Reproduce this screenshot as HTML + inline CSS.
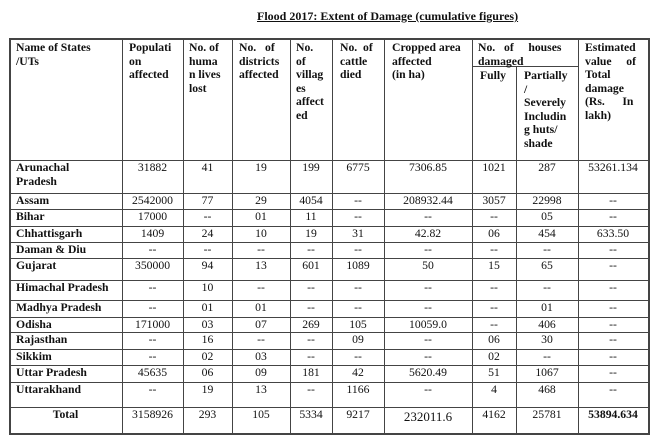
<!DOCTYPE html>
<html><head><style>
body{margin:0;width:663px;height:439px;background:#fff;position:relative;font-family:"Liberation Serif",serif;color:#111;overflow:hidden}
.h{position:absolute;height:1px;background:#444}
.v{position:absolute;width:1px;background:#444}
.t{position:absolute;font-size:11.7px;line-height:13.5px;white-space:nowrap}
.b{font-weight:bold}
.c{text-align:center}
</style></head><body>
<div class="t b" style="left:257px;top:10px;text-decoration:underline;font-size:12px">Flood 2017: Extent of Damage (cumulative figures)</div>
<div id="g"></div>
<script>
const xs=[9,122,183,232,290,332,384,472,516,578,648];
const ys=[38,160,193,209,226,242,258,280,300,317,332,349,365,382,407,433];
let h='';
ys.forEach(y=>h+=`<div class="h" style="left:9px;width:640px;top:${y}px;${y==38||y==433?'height:2px;':''}"></div>`);
h+=`<div class="h" style="left:472px;width:106px;top:66px"></div>`;
xs.forEach((x,i)=>{let top=38;if(x==516)top=66;h+=`<div class="v" style="left:${x}px;top:${top}px;height:${433-top+2}px;${i==0||i==10?'width:2px;':''}"></div>`});
const hd=[[16,41,"Name of States<br>/UTs"],[129,41,"Populati<br>on<br>affected"],[189,41,"No. of<br>huma<br>n lives<br>lost"],[239,41,"No.&nbsp;&nbsp; of<br>districts<br>affected"],[296,41,"No.<br>of<br>villag<br>es<br>affect<br>ed"],[340,41,"No.&nbsp; of<br>cattle<br>died"],[392,41,"Cropped area<br>affected<br>(in ha)"],[478,41,"No.&nbsp;&nbsp; of&nbsp;&nbsp;&nbsp;&nbsp; houses<br>damaged"],[480,69,"Fully"],[524,69,"Partially<br>/<br>Severely<br>Includin<br>g huts/<br>shade"],[585,41,"Estimated<br>value&nbsp;&nbsp;&nbsp;&nbsp; of<br>Total<br>damage<br>(Rs.&nbsp;&nbsp;&nbsp;&nbsp;&nbsp; In<br>lakh)"]];
hd.forEach(a=>h+=`<div class="t b" style="left:${a[0]}px;top:${a[1]}px">${a[2]}</div>`);
const rows=[
["Arunachal<br>Pradesh","31882","41","19","199","6775","7306.85","1021","287","53261.134"],
["Assam","2542000","77","29","4054","--","208932.44","3057","22998","--"],
["Bihar","17000","--","01","11","--","--","--","05","--"],
["Chhattisgarh","1409","24","10","19","31","42.82","06","454","633.50"],
["Daman &amp; Diu","--","--","--","--","--","--","--","--","--"],
["Gujarat","350000","94","13","601","1089","50","15","65","--"],
["Himachal Pradesh","--","10","--","--","--","--","--","--","--"],
["Madhya Pradesh","--","01","01","--","--","--","--","01","--"],
["Odisha","171000","03","07","269","105","10059.0","--","406","--"],
["Rajasthan","--","16","--","--","09","--","06","30","--"],
["Sikkim","--","02","03","--","--","--","02","--","--"],
["Uttar Pradesh","45635","06","09","181","42","5620.49","51","1067","--"],
["Uttarakhand","--","19","13","--","1166","--","4","468","--"],
["Total","3158926","293","105","5334","9217","232011.6","4162","25781","53894.634"]];
rows.forEach((r,i)=>{const y=ys[i+1]+1;const tot=i==13;
 h+=`<div class="t b" style="left:${tot?9:16}px;top:${y}px;${tot?'width:113px;text-align:center':''}">${r[0]}</div>`;
 for(let j=1;j<10;j++){let st='';if(tot&&j==6)st='font-size:13px;top:'+(y+2)+'px;';if(tot&&j==9)st='font-weight:bold;';
 h+=`<div class="t c" style="left:${xs[j]}px;width:${xs[j+1]-xs[j]}px;top:${y}px;${st}">${r[j]}</div>`}});
document.getElementById('g').innerHTML=h;
</script>
</body></html>
